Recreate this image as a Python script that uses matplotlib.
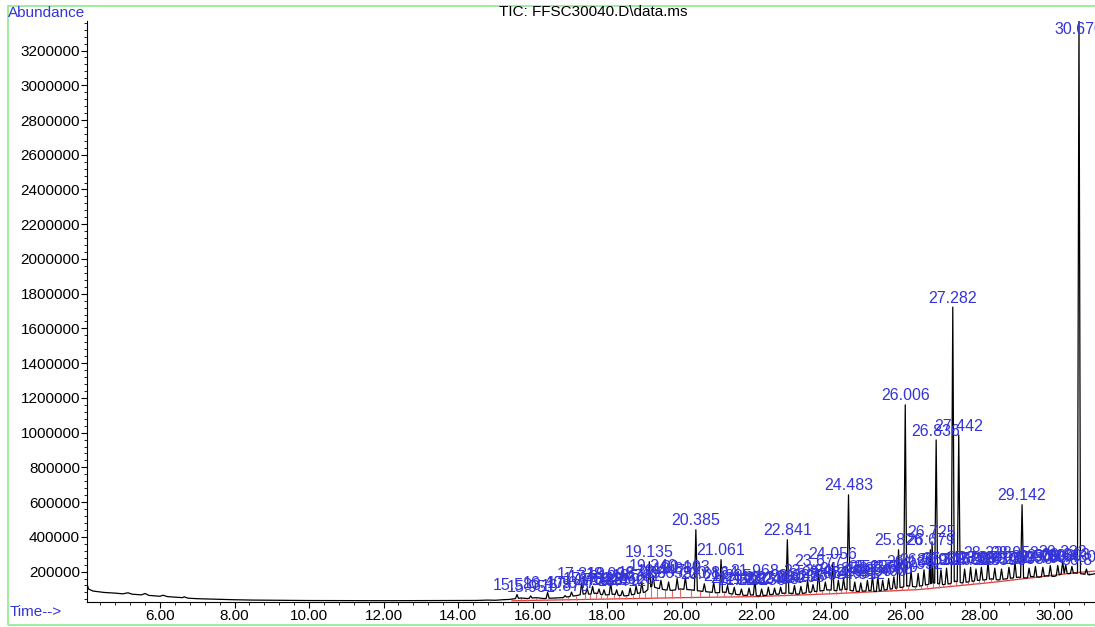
import matplotlib
matplotlib.use("Agg")
import matplotlib.pyplot as plt
from matplotlib.patches import Rectangle
from matplotlib.ticker import MultipleLocator, FuncFormatter
import numpy as np

plt.rcParams['font.family'] = ['Liberation Sans', 'DejaVu Sans']

# early part of the TIC trace (solvent tail), time in min, abundance
early_t = [4.04, 4.08, 4.2, 4.5, 4.8, 5.0, 5.14, 5.25, 5.5, 5.6, 5.7, 6.0, 6.08, 6.2,
           6.6, 6.65, 6.75, 7.0, 7.5, 8.0, 8.5, 9.0, 10.0, 11.0, 12.0, 13.0, 14.0,
           14.5, 14.8, 15.0, 15.2, 15.4]
early_v = [130000, 100000, 88000, 80000, 76000, 72000, 78000, 70000, 66000, 74000, 63000,
           58000, 64000, 56000, 50000, 55000, 47000, 44000, 41000, 38000, 36000, 35000,
           33500, 33000, 32500, 33000, 33000, 34000, 36000, 35000, 38000, 40000]

# valleys between peaks
valley_t = [15.45, 15.7, 15.85, 16.1, 16.3, 16.6, 16.8, 16.95, 17.18, 17.4, 17.54, 17.7,
            17.85, 18.0, 18.18, 18.33, 18.5, 18.7, 18.85, 19.02, 19.19, 19.35, 19.55,
            19.75, 19.97, 20.25, 20.5, 20.75, 20.95, 21.15, 21.33, 21.5, 21.7, 21.9,
            22.05, 22.25, 22.4, 22.6, 22.75, 22.95, 23.1, 23.3, 23.45, 23.6, 23.78,
            23.95, 24.15, 24.28, 24.42, 24.57, 24.72, 24.9, 25.05, 25.2, 25.33, 25.48,
            25.63, 25.76, 25.92, 26.07, 26.27, 26.43, 26.6, 26.76, 26.9, 27.03, 27.2,
            27.36, 27.52, 27.68, 27.83, 27.98, 28.13, 28.32, 28.5, 28.7, 28.88, 29.05,
            29.25, 29.4, 29.6, 29.8, 30.0, 30.15, 30.28, 30.4, 30.58, 30.78, 30.95, 31.1]
valley_v = [42000, 48000, 45000, 50000, 45000, 48000, 50000, 55000, 62000, 72000, 70000,
            76000, 68000, 66000, 70000, 63000, 60000, 68000, 76000, 82000, 115000, 105000,
            95000, 92000, 100000, 95000, 88000, 82000, 78000, 82000, 72000, 68000,
            63000, 66000, 60000, 63000, 68000, 70000, 76000, 75000, 70000, 76000, 82000,
            86000, 90000, 95000, 90000, 95000, 98000, 90000, 86000, 88000, 90000,
            86000, 90000, 95000, 100000, 105000, 110000, 118000, 112000, 118000, 125000,
            135000, 130000, 125000, 130000, 145000, 135000, 140000, 145000, 150000,
            152000, 158000, 152000, 158000, 163000, 168000, 163000, 172000, 168000,
            176000, 172000, 182000, 192000, 188000, 192000, 186000, 182000, 188000]

# integrated peaks: retention time and apex abundance
peak_t = [15.583, 15.951, 16.405, 16.873, 17.047, 17.319, 17.466, 17.612, 17.785, 17.920,
          18.098, 18.259, 18.412, 18.620, 18.781, 18.933, 19.135, 19.240, 19.447, 19.653,
          19.882, 20.103, 20.385, 20.612, 20.864, 21.061, 21.235, 21.416, 21.608, 21.812,
          21.968, 22.150, 22.331, 22.498, 22.660, 22.841, 23.032, 23.205, 23.384, 23.530,
          23.677, 23.861, 24.056, 24.210, 24.350, 24.483, 24.651, 24.812, 24.990, 25.126,
          25.270, 25.400, 25.560, 25.700, 25.826, 26.006, 26.163, 26.352, 26.510, 26.679,
          26.725, 26.836, 26.965, 27.115, 27.282, 27.442, 27.600, 27.760, 27.905, 28.050,
          28.228, 28.410, 28.590, 28.790, 28.952, 29.142, 29.330, 29.500, 29.700, 29.900,
          30.100, 30.232, 30.313, 30.480, 30.670, 30.870]
peak_v = [68000, 60000, 80000, 62000, 82000, 135000, 105000, 115000, 100000, 95000,
          135000, 95000, 90000, 105000, 118000, 140000, 257000, 177000, 150000, 140000,
          160000, 170000, 441000, 130000, 140000, 269000, 120000, 110000, 100000, 105000,
          150000, 100000, 110000, 105000, 110000, 384000, 120000, 115000, 150000, 125000,
          206000, 140000, 250000, 150000, 160000, 642000, 140000, 135000, 150000, 175000,
          170000, 150000, 160000, 170000, 326000, 1160000, 200000, 190000, 210000, 326000,
          372000, 958000, 210000, 220000, 1723000, 987000, 215000, 225000, 215000, 225000,
          255000, 220000, 215000, 225000, 255000, 585000, 220000, 230000, 225000, 235000,
          235000, 258000, 240000, 230000, 3400000, 215000]

# red integration baseline
base_t = [15.45, 18.0, 20.0, 22.0, 24.0, 26.4, 28.3, 30.6, 31.1]
base_v = [32000, 42000, 50000, 56000, 72000, 97000, 137000, 194000, 203000]

blue = '#3434d8'
half_width = 0.04  # peak foot half width, min

fig = plt.figure(figsize=(10.95, 6.27), dpi=100)
ax = fig.add_axes([87 / 1095, 25 / 627, 1 - 87 / 1095, 581 / 627])

# peaks drawn as narrow spikes rising from the local valley level
pk = np.array(peak_t)
foot_l = np.interp(pk - half_width, valley_t, valley_v)
foot_r = np.interp(pk + half_width, valley_t, valley_v)
t_all = np.concatenate([early_t, valley_t, pk - half_width, pk, pk + half_width])
v_all = np.concatenate([early_v, valley_v, foot_l, peak_v, foot_r])
order = np.argsort(t_all, kind='stable')
ax.plot(t_all[order], v_all[order], color='black', lw=0.9, zorder=3)

ax.plot(base_t, base_v, color='#e03a3a', lw=0.9, zorder=2)
drop_lo = np.interp(valley_t, base_t, base_v)
ax.vlines(valley_t, drop_lo, valley_v, color='#e86a6a', lw=0.8, zorder=2)

for t, v in zip(peak_t, peak_v):
    ax.annotate(f"{t:.3f}", (t, min(v, 3270000)), xytext=(0, 1),
                textcoords='offset points', ha='center', va='bottom',
                fontsize=11.5, color=blue, zorder=4, annotation_clip=False)

ax.set_xlim(4.04, 31.1)
ax.set_ylim(25000, 3370000)
ax.spines['top'].set_visible(False)
ax.spines['right'].set_visible(False)
ax.xaxis.set_major_locator(MultipleLocator(2))
ax.xaxis.set_minor_locator(MultipleLocator(0.4))
ax.yaxis.set_major_locator(MultipleLocator(200000))
ax.yaxis.set_minor_locator(MultipleLocator(40000))
ax.xaxis.set_major_formatter(FuncFormatter(lambda x, p: f"{x:.2f}"))
ax.yaxis.set_major_formatter(FuncFormatter(lambda y, p: f"{int(y)}"))
ax.tick_params(axis='both', which='major', labelsize=11, length=4, width=0.8, pad=1)
ax.tick_params(axis='both', which='minor', length=2.5, width=0.6)

fig.patches.append(Rectangle((8 / 1095, 2 / 627), 1.2, 619 / 627, transform=fig.transFigure,
                             fill=False, edgecolor='#90e890', lw=1.2, zorder=0))
fig.text(8 / 1095, 1 - 13 / 627, "Abundance", color=blue, fontsize=11, ha='left', va='center')
fig.text(593 / 1095, 1 - 12 / 627, "TIC: FFSC30040.D\\data.ms", color='black', fontsize=11,
         ha='center', va='center')
fig.text(10 / 1095, 1 - 612 / 627, "Time-->", color=blue, fontsize=11, ha='left', va='center')

fig.savefig("out.png", dpi=100)
